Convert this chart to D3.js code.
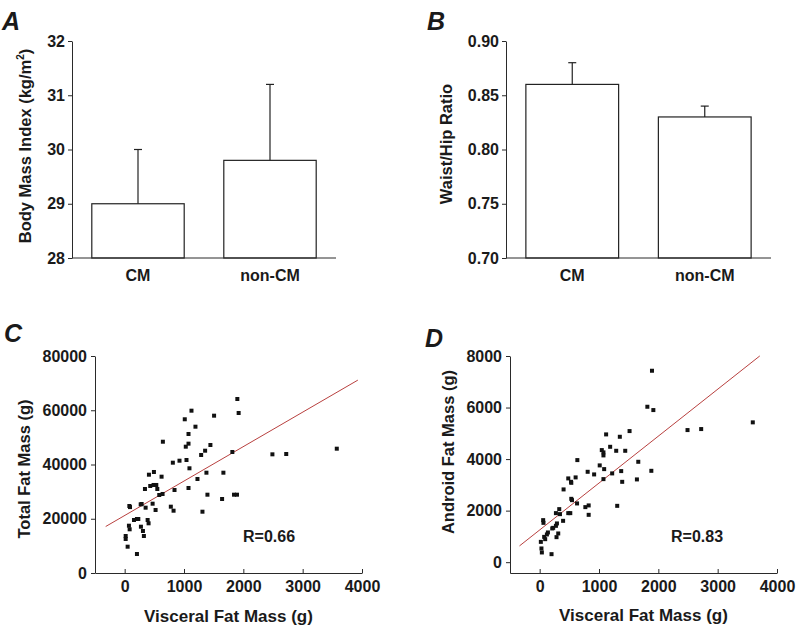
<!DOCTYPE html>
<html>
<head>
<meta charset="utf-8">
<script src="https://cdn.jsdelivr.net/npm/d3@7"></script>
<style>
  html, body { margin: 0; padding: 0; background: #fff; }
  svg { display: block; }
  text { font-family: "Liberation Sans", Arial, Helvetica, sans-serif; fill: #1a1a1a; }
</style>
</head>
<body>
<svg id="chart" width="800" height="632"></svg>
<script>
// ---------------- DATA ----------------
const groups = ["CM", "non-CM"];

const bmiMeans = [29.0, 29.8];
const bmiUpperErr = [1.0, 1.4];
const bmiTicks = [28, 29, 30, 31, 32];

const whrMeans = [0.86, 0.83];
const whrUpperErr = [0.02, 0.01];
const whrTicks = [0.70, 0.75, 0.80, 0.85, 0.90];

const visceralTicks = [0, 1000, 2000, 3000, 4000];
const totalFatTicks = [0, 20000, 40000, 60000, 80000];
const androidTicks = [0, 2000, 4000, 6000, 8000];

// Panel C: [visceral fat mass (g), total fat mass (g)]
const totalFatPoints = [
  [17,13640],[17,12540],[50,9700],[207,7000],
  [72,17440],[84,16110],[79,24700],[90,24300],
  [157,19540],[207,19910],[230,19910],
  [274,17070],[308,15490],[324,13640],
  [387,19540],[403,18320],
  [286,25440],[270,25300],[353,24080],[471,25550],[521,23230],
  [342,30970],[431,32080],[487,32450],[533,32450],[550,30970],
  [583,28760],[639,29130],
  [409,36240],[493,37240],[622,35510],
  [644,48400],
  [778,24450],[824,22970],
  [840,30600],[812,40670],[924,41400],[1042,41660],[1092,38600],
  [1076,31340],[1227,34660],
  [1013,56670],[1126,59840],[1076,51250],[1193,53940],[1030,46570],[1076,47680],
  [1289,43510],[1356,45090],[1445,47190],[1507,58000],
  [1378,36980],[1664,36980],[1395,28870],[1642,27280],[1311,22600],
  [1815,44610],[1843,28870],[1893,28870],[1899,64150],[1921,58990],
  [2490,43750],[2723,43870],[3575,45830]
];

// Panel D: [visceral fat mass (g), android fat mass (g)]
const androidFatPoints = [
  [20,788],[30,532],[37,377],[200,311],
  [76,982],[93,893],[139,1153],[122,1076],
  [212,1309],[228,1332],[274,1410],[291,1503],
  [313,1114],[284,971],
  [59,1631],[64,1526],
  [395,1604],
  [274,1903],[342,1864],[330,2058],[482,1903],[516,1903],
  [533,2458],[545,2407],[630,2279],
  [770,2136],[826,2202],[826,1837],
  [403,2823],
  [482,3250],[528,3118],[533,3079],[606,3289],
  [635,3961],[809,3507],[918,3405],
  [1012,3755],[1087,3611],[1075,3223],
  [1222,3444],[1374,3534],[1391,3118],[1307,2186],
  [1047,4349],[1075,4260],[1075,4143],[1188,4477],[1290,4322],[1442,4322],
  [1120,4958],[1351,4866],[1515,5087],
  [1662,3895],[1639,3211],[1882,3545],
  [1815,6031],[1916,5902],[1893,7428],
  [2492,5126],[2722,5165],[3592,5425]
];

// regression lines (intercept, slope, x-extent in data units)
const fitTotal = { intercept: 21200, slope: 12.7, x0: -320, x1: 3930 };
const fitAndroid = { intercept: 1250, slope: 1.82, x0: -340, x1: 3710 };
const rTotal = "R=0.66";
const rAndroid = "R=0.83";

// ---------------- DRAWING ----------------
const svg = d3.select("#chart");
svg.append("rect").attr("width", 800).attr("height", 632).attr("fill", "#fff");

const AXIS = "#2a2a2a";
const FIT = "#b8403f";

function panelLetter(txt, x, y) {
  svg.append("text").attr("x", x).attr("y", y)
    .attr("font-size", 25).attr("font-weight", "bold").attr("font-style", "italic")
    .text(txt);
}

function styleAxis(g) {
  g.selectAll("path, line").attr("stroke", AXIS).attr("stroke-width", 1);
  g.selectAll("text").attr("font-size", 16).attr("font-weight", "bold")
    .attr("fill", "#1a1a1a").attr("font-family", "Liberation Sans, Arial, sans-serif");
}

function yTitle(parts, cx, cy) {
  const t = svg.append("text")
    .attr("transform", `translate(${cx},${cy}) rotate(-90)`)
    .attr("text-anchor", "middle").attr("dy", "0.35em")
    .attr("font-size", 16.5).attr("font-weight", "bold");
  parts.forEach(p => {
    const s = t.append("tspan").text(p.text);
    if (p.sup) s.attr("font-size", 10).attr("dy", -7);
    if (p.after) s.attr("dy", 7);
  });
}

function xTitle(txt, cx, y) {
  svg.append("text").attr("x", cx).attr("y", y).attr("text-anchor", "middle")
    .attr("font-size", 17).attr("font-weight", "bold").text(txt);
}

function barPanel(o) {
  const x = d3.scaleBand().domain(groups).range([o.left, o.right])
    .paddingInner(0.3).paddingOuter(0.15);
  const y = d3.scaleLinear().domain([o.ticks[0], o.ticks[o.ticks.length - 1]])
    .range([o.bottom, o.top]);
  const g = svg.append("g");

  // bars
  g.selectAll("rect.bar").data(groups).enter().append("rect")
    .attr("x", d => x(d)).attr("width", x.bandwidth())
    .attr("y", (d, i) => y(o.means[i]))
    .attr("height", (d, i) => y(o.ticks[0]) - y(o.means[i]))
    .attr("fill", "#fff").attr("stroke", "#222").attr("stroke-width", 1.2);

  // error bars (upper)
  groups.forEach((d, i) => {
    const cx = x(d) + x.bandwidth() / 2;
    g.append("line").attr("x1", cx).attr("x2", cx)
      .attr("y1", y(o.means[i])).attr("y2", y(o.means[i] + o.err[i]))
      .attr("stroke", "#222").attr("stroke-width", 1.2);
    g.append("line").attr("x1", cx - 4).attr("x2", cx + 4)
      .attr("y1", y(o.means[i] + o.err[i])).attr("y2", y(o.means[i] + o.err[i]))
      .attr("stroke", "#222").attr("stroke-width", 1.2);
  });

  // y axis
  const ya = svg.append("g").attr("transform", `translate(${o.left},0)`)
    .call(d3.axisLeft(y).tickValues(o.ticks).tickFormat(o.fmt).tickSizeInner(4).tickSizeOuter(0).tickPadding(3));
  styleAxis(ya);

  // x baseline
  svg.append("line").attr("x1", o.left).attr("x2", o.right)
    .attr("y1", o.bottom).attr("y2", o.bottom).attr("stroke", AXIS).attr("stroke-width", 1);

  // category labels
  groups.forEach(d => {
    svg.append("text").attr("x", x(d) + x.bandwidth() / 2).attr("y", o.bottom + 23)
      .attr("text-anchor", "middle").attr("font-size", 16).attr("font-weight", "bold").text(d);
  });
}

function scatterPanel(o) {
  const x = d3.scaleLinear().domain([-500, 4000]).range([o.left, o.right]);
  const y = d3.scaleLinear().domain(o.ydomain).range([o.bottom, o.top]);
  const g = svg.append("g");

  // axes
  const xa = svg.append("g").attr("transform", `translate(0,${o.bottom})`)
    .call(d3.axisBottom(x).tickValues(visceralTicks).tickFormat(d3.format("d"))
      .tickSizeInner(-4).tickSizeOuter(0).tickPadding(8));
  styleAxis(xa);
  const ya = svg.append("g").attr("transform", `translate(${o.left},0)`)
    .call(d3.axisLeft(y).tickValues(o.ticks).tickFormat(d3.format("d"))
      .tickSizeInner(4).tickSizeOuter(0).tickPadding(4));
  styleAxis(ya);

  // regression line
  g.append("line")
    .attr("x1", x(o.fit.x0)).attr("y1", y(o.fit.intercept + o.fit.slope * o.fit.x0))
    .attr("x2", x(o.fit.x1)).attr("y2", y(o.fit.intercept + o.fit.slope * o.fit.x1))
    .attr("stroke", FIT).attr("stroke-width", 1);

  // points
  g.selectAll("rect.pt").data(o.points).enter().append("rect")
    .attr("x", d => x(d[0]) - 2).attr("y", d => y(d[1]) - 2)
    .attr("width", 4).attr("height", 4).attr("fill", "#111");

  // R label
  svg.append("text").attr("x", o.rx).attr("y", o.ry)
    .attr("font-size", 16).attr("font-weight", "bold").text(o.r);
}

// Panel A
panelLetter("A", 2, 30);
barPanel({ left: 72, right: 336, top: 41, bottom: 258, means: bmiMeans, err: bmiUpperErr,
  ticks: bmiTicks, fmt: d3.format("d") });
yTitle([{ text: "Body Mass Index (kg/m" }, { text: "2", sup: true }, { text: ")", after: true }], 25, 146);

// Panel B
panelLetter("B", 427, 30);
barPanel({ left: 506, right: 771, top: 41, bottom: 258, means: whrMeans, err: whrUpperErr,
  ticks: whrTicks, fmt: d3.format(".2f") });
yTitle([{ text: "Waist/Hip Ratio" }], 446, 144);

// Panel C
panelLetter("C", 4, 342);
scatterPanel({ left: 95, right: 362, top: 356, bottom: 573, ydomain: [0, 80000],
  ticks: totalFatTicks, points: totalFatPoints, fit: fitTotal, r: rTotal, rx: 243, ry: 542 });
yTitle([{ text: "Total Fat Mass (g)" }], 24, 469);
xTitle("Visceral Fat Mass (g)", 228.5, 622);

// Panel D
panelLetter("D", 425, 347);
scatterPanel({ left: 510, right: 777, top: 356, bottom: 573, ydomain: [-420, 8000],
  ticks: androidTicks, points: androidFatPoints, fit: fitAndroid, r: rAndroid, rx: 671, ry: 542 });
yTitle([{ text: "Android Fat Mass (g)" }], 448, 452);
xTitle("Visceral Fat Mass (g)", 643.5, 621);
</script>
</body>
</html>
